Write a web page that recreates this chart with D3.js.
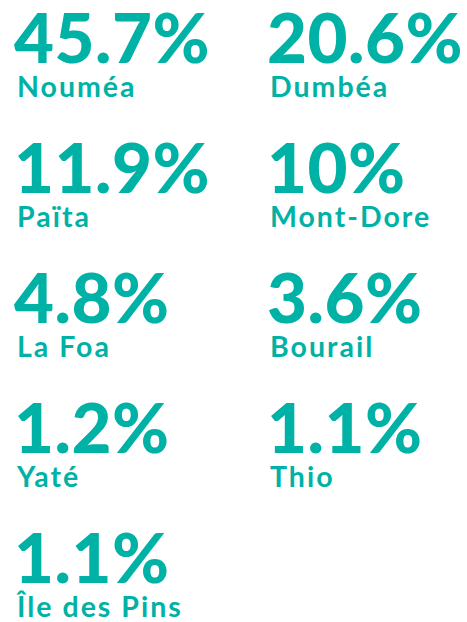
<!DOCTYPE html>
<html><head><meta charset="utf-8">
<script src="https://cdn.jsdelivr.net/npm/d3@7"></script>
<style>body{margin:0;background:#fff}</style>
</head><body>
<svg id="c" width="467" height="622"></svg>
<script>
const communes = ["Nouméa","Dumbéa","Païta","Mont-Dore","La Foa","Bourail","Yaté","Thio","Île des Pins"];
const values = [45.7, 20.6, 11.9, 10, 4.8, 3.6, 1.2, 1.1, 1.1];
const color = "#00b2a5";
const svg = d3.select("#c");
const cols = d3.scaleOrdinal().domain([0,1]).range([14, 267]);
const rows = d3.scaleLinear().domain([0,4]).range([63, 583]);
const g = svg.selectAll("g").data(communes.map((c,i)=>({c, v:values[i], i})))
  .join("g").attr("transform", d=>`translate(${cols(d.i%2)},${rows(Math.floor(d.i/2))})`);
g.append("text").text(d=>d.v+"%")
  .attr("font-family","Lato").attr("font-weight",900).attr("font-size",69)
  .attr("letter-spacing",0.5)
  .attr("fill",color);
g.append("text").text(d=>d.c).attr("x",3).attr("y",34)
  .attr("font-family","Lato").attr("font-weight",700).attr("font-size",28.5)
  .attr("letter-spacing",2)
  .attr("fill",color);
</script>
</body></html>
